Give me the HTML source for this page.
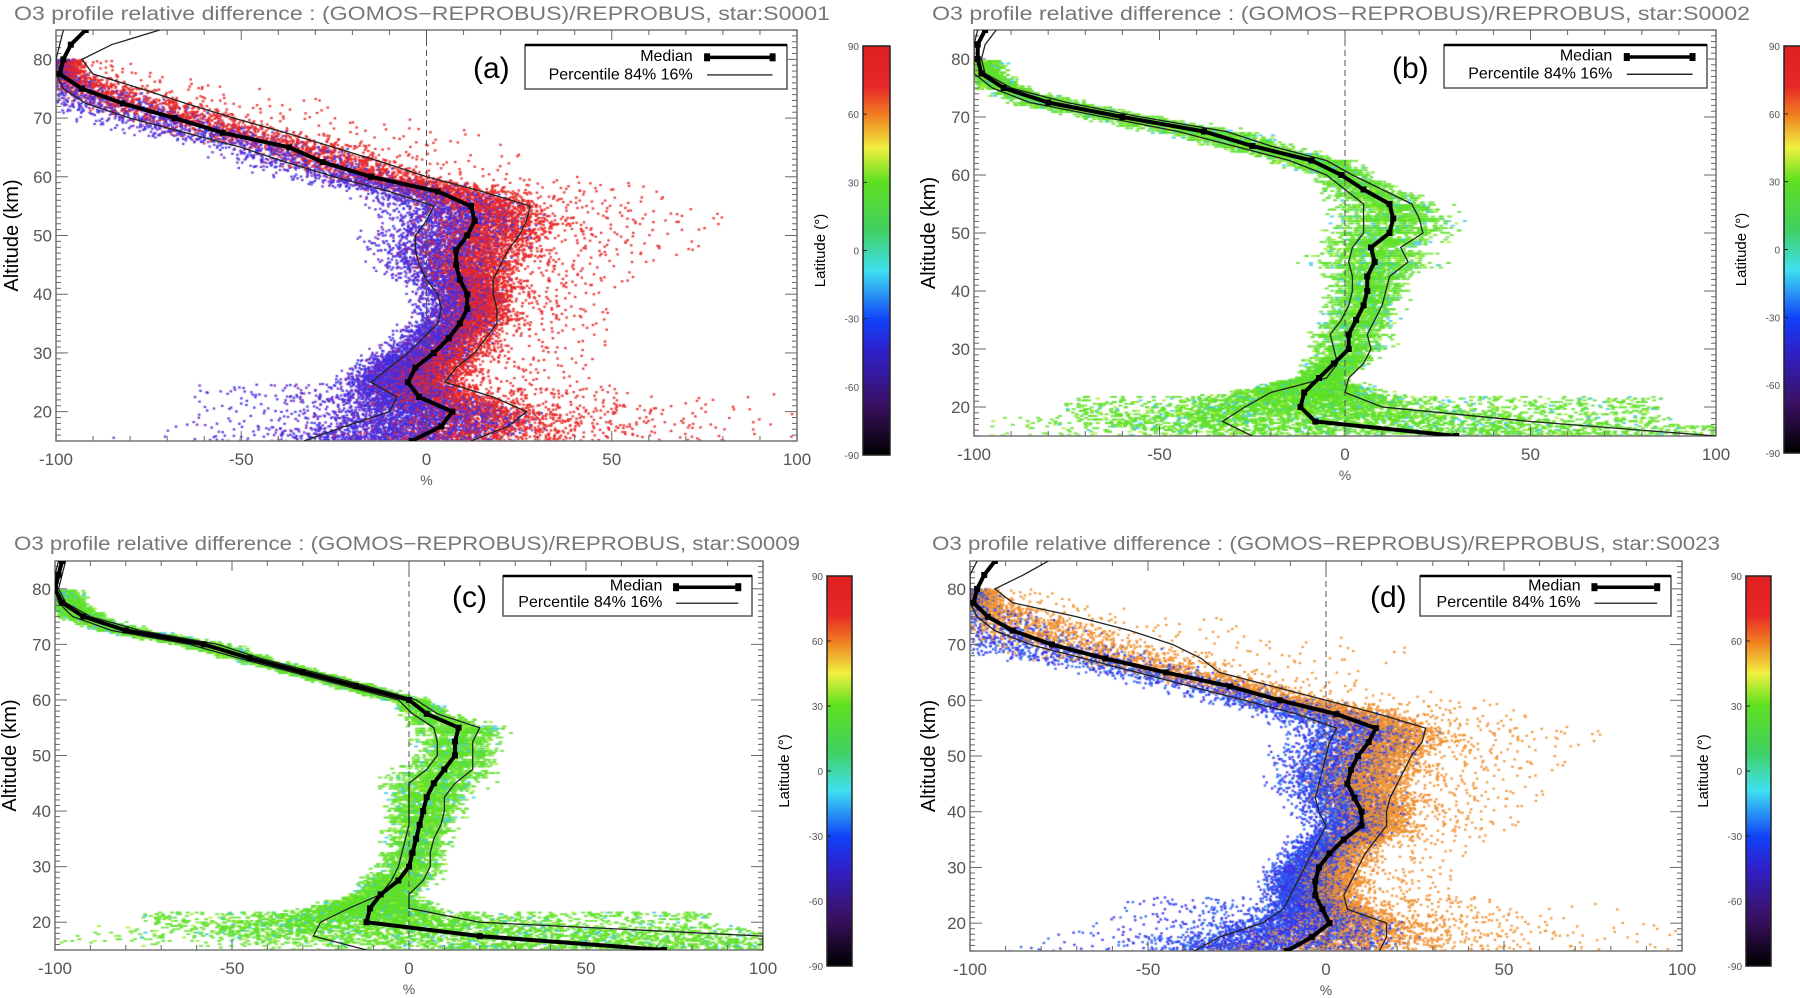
<!DOCTYPE html>
<html><head><meta charset="utf-8"><style>
html,body{margin:0;padding:0;background:#fff;}
#root{position:relative;width:1800px;height:998px;overflow:hidden;background:#fff;font-family:"Liberation Sans",sans-serif;}
canvas{position:absolute;left:0;top:0;}
svg{position:absolute;left:0;top:0;}
</style></head><body>
<div id="root">
<canvas id="cv" width="1800" height="998"></canvas>
<svg id="sv" width="1800" height="998"></svg>
</div>
<script>
// ---- data ----
const altitudes = [15,17.5,20,22.5,25,27.5,30,32.5,35,37.5,40,42.5,45,47.5,50,52.5,55,57.5,60,62.5,65,67.5,70,72.5,75,77.5,80,82.5,85];
const medianA = [-4,4,7,-2,-5,-3,2,6,9,11,11,9,8,8,11,13,12,3,-15,-28,-37,-55,-68,-82,-93,-99,-98,-96,-92];
const p16A = [-33,-22,-10,-8,-15,-10,-5,-1,3,4,3,0,-2,-3,-3,0,2,-10,-25,-38,-50,-65,-80,-92,-98,-100,-100,-99,-98];
const p84A = [12,22,27,18,5,8,13,16,19,19,18,18,20,22,25,27,28,15,0,-12,-25,-38,-52,-65,-77,-90,-93,-85,-72];
const medianB = [30,-8,-12,-11,-7,-3,1,1,3,5,6,6,8,7,12,13,12,5,-1,-9,-25,-38,-60,-80,-92,-98,-99,-99,-97];
const p16B = [-25,-33,-27,-20,-5,-2,-3,-4,-1,1,2,2,1,2,5,5,5,0,-5,-15,-30,-45,-65,-85,-95,-100,-100,-100,-99];
const p84B = [100,50,10,0,1,5,7,6,8,10,11,12,17,15,21,20,18,10,2,-5,-20,-32,-55,-75,-90,-97,-98,-97,-94];
const medianC = [72,20,-12,-11,-8,-3,0,1,2,3,4,5,7,10,13,13,14,5,0,-15,-30,-45,-58,-80,-92,-98,-100,-99,-98];
const p16C = [-12,-27,-25,-17,-8,-5,-3,-2,-1,0,0,0,0,5,8,8,7,1,-3,-18,-33,-48,-62,-84,-95,-99,-100,-100,-99];
const p84C = [100,100,20,0,0,4,6,6,7,9,10,10,13,18,18,18,20,8,2,-12,-27,-42,-54,-76,-90,-97,-99,-98,-97];
const medianD = [-11,-4,1,-1,-3,-3,-2,1,5,10,10,8,6,7,9,12,14,3,-13,-27,-45,-62,-77,-88,-95,-99,-98,-96,-93];
const p16D = [-37,-30,-18,-12,-10,-8,-6,-4,-2,0,-2,-3,-2,-1,0,1,3,-8,-23,-38,-53,-68,-83,-93,-98,-100,-100,-100,-98];
const p84D = [15,17,17,6,5,7,9,11,14,17,17,18,20,22,24,27,28,15,0,-15,-30,-35,-43,-55,-70,-88,-93,-85,-78];
const xTicks = [-100,-50,0,50,100];
const yTicks = [20,30,40,50,60,70,80];
const latTicks = [-90,-60,-30,0,30,60,90];
const titles = ["O3 profile relative difference : (GOMOS\u2212REPROBUS)/REPROBUS, star:S0001","O3 profile relative difference : (GOMOS\u2212REPROBUS)/REPROBUS, star:S0002","O3 profile relative difference : (GOMOS\u2212REPROBUS)/REPROBUS, star:S0009","O3 profile relative difference : (GOMOS\u2212REPROBUS)/REPROBUS, star:S0023"];
const panelLabels = ["(a)","(b)","(c)","(d)"];

// ---- layout ----
const panels = [
 {id:'a',med:medianA,lo:p16A,hi:p84A,x0:56,x1:797,y0:30,y1:441,tx:14,ty:20,tw:816,cb:[863,890,46,455],lg:[525,787,45,89],lab:[473,78],style:'mix',c1:'#e82828',c2:'#3a30e8',c3:'#6a2ac8',ax:18},
 {id:'b',med:medianB,lo:p16B,hi:p84B,x0:974,x1:1716,y0:30,y1:436,tx:932,ty:20,tw:818,cb:[1784,1806,46,453],lg:[1444,1707,45,88],lab:[1392,78],style:'band',ax:935},
 {id:'c',med:medianC,lo:p16C,hi:p84C,x0:55,x1:763,y0:561,y1:950,tx:14,ty:550,tw:786,cb:[827,852,576,966],lg:[503,752,576,616],lab:[452,607],style:'band',ax:16},
 {id:'d',med:medianD,lo:p16D,hi:p84D,x0:970,x1:1682,y0:561,y1:951,tx:932,ty:550,tw:788,cb:[1746,1771,576,966],lg:[1420,1671,576,616],lab:[1370,607],style:'mix',c1:'#f09030',c2:'#3a30e8',c3:'#2a60f0',ax:935}
];
const NS='http://www.w3.org/2000/svg';
const sv=document.getElementById('sv');
const ctx=document.getElementById('cv').getContext('2d');
function mk(tag,attrs,parent){const e=document.createElementNS(NS,tag);for(const k in attrs)e.setAttribute(k,attrs[k]);(parent||sv).appendChild(e);return e;}
let seed=12345;function rnd(){seed=(seed*1103515245+12345)&0x7fffffff;return seed/0x7fffffff;}
function gauss(){return (rnd()+rnd()+rnd()-1.5)*1.4;}
function interp(arr,alt){if(alt<=altitudes[0])return arr[0];for(let i=1;i<altitudes.length;i++){if(alt<=altitudes[i]){const t=(alt-altitudes[i-1])/(altitudes[i]-altitudes[i-1]);return arr[i-1]+t*(arr[i]-arr[i-1]);}}return arr[arr.length-1];}

panels.forEach(p=>{
 const sx=v=>p.x0+(v+100)/200*(p.x1-p.x0);
 const sy=a=>p.y1-(a-15)/70*(p.y1-p.y0);
 const g=mk('g',{});
 
 
 // scatter texture
 ctx.save();ctx.beginPath();ctx.rect(p.x0,p.y0,p.x1-p.x0,p.y1-p.y0);ctx.clip();
 if(p.style==='mix'){
  for(let alt=15;alt<=80;alt+=0.25){
   const m=interp(p.med,alt),lo=interp(p.lo,alt),hi=interp(p.hi,alt);
   const s=Math.max(4,(hi-lo)/2);
   const n=alt<30?130:(alt<60?80:45);
   for(let k=0;k<n;k++){
    const r=rnd();let x,col;
    const blueFrac=alt<35?0.6:0.45;
    if(r>blueFrac){x=m+s*(gauss()*0.9+0.5);col=p.c1;if(rnd()<0.1)x+=s*rnd()*4;}
    else{x=m+s*(gauss()*0.9-0.4);col=(rnd()<0.5)?p.c2:p.c3;}
    if(alt<25&&rnd()<0.1)x+= (r>blueFrac?1:-1)*rnd()*45;
    ctx.fillStyle=col;ctx.globalAlpha=0.9;
    ctx.fillRect(sx(x),sy(alt+(rnd()-0.5)*0.3),2.5,2.2);
   }
  }
 } else {
  for(let alt=15;alt<=80;alt+=(alt<28?0.3:0.4)){
   const m=interp(p.med,alt),lo=interp(p.lo,alt),hi=interp(p.hi,alt);
   const s=Math.max(3,(hi-lo)/2);
   const band=(alt>=28&&alt<60)?((alt%2)<1?1:0.4):1;
   const n=Math.round((alt<25?170:80)*band);
   for(let k=0;k<n;k++){
    let x=m+s*gauss()*1.4;
    if(alt<22&&rnd()<0.4)x=m+(rnd()-0.4)*160;
    ctx.fillStyle=rnd()<0.85?'#5ee02a':(rnd()<0.5?'#9ef02a':'#40c8e8');
    ctx.globalAlpha=0.9;
    ctx.fillRect(sx(x),sy(alt),4,1.8);
   }
  }
 }
 ctx.restore();
 // frame
 const fr=mk('rect',{x:p.x0,y:p.y0,width:p.x1-p.x0,height:p.y1-p.y0,fill:'none',stroke:'#777','stroke-width':1.5},g);
 
 // ticks
 for(let v=-100;v<=100;v+=10){const maj=v%50===0;const X=sx(v);
  mk('line',{x1:X,x2:X,y1:p.y1,y2:p.y1-(maj?10:5),stroke:'#666'},g);
  mk('line',{x1:X,x2:X,y1:p.y0,y2:p.y0+(maj?10:5),stroke:'#666'},g);}
 for(let a=15;a<=85;a+=1){const maj=a%10===0;const Y=sy(a);
  mk('line',{x1:p.x0,x2:p.x0+(maj?12:5),y1:Y,y2:Y,stroke:'#666'},g);
  mk('line',{x1:p.x1,x2:p.x1-(maj?12:5),y1:Y,y2:Y,stroke:'#666'},g);}
 xTicks.forEach(v=>{const t=mk('text',{x:sx(v),y:p.y1+24,'text-anchor':'middle','font-size':17,fill:'#555'},g);t.textContent=v;
  });
 yTicks.forEach(a=>{const t=mk('text',{x:p.x0-4,y:sy(a)+6,'text-anchor':'end','font-size':17,fill:'#555'},g);t.textContent=a;
  });
 const xt=mk('text',{x:sx(0),y:p.y1+44,'text-anchor':'middle','font-size':14,fill:'#555'},g);xt.textContent='%';
 
 const yt=mk('text',{x:0,y:0,transform:`translate(${p.ax},${(p.y0+p.y1)/2}) rotate(-90)`,'text-anchor':'middle','font-size':20,fill:'#000'},g);yt.textContent='Altitude (km)';
 
 const ti=mk('text',{x:p.tx,y:p.ty,'font-size':19,fill:'#777',textLength:p.tw,lengthAdjust:'spacingAndGlyphs'},g);ti.textContent=titles['abcd'.indexOf(p.id)];
 
 // zero line
 const zl=mk('line',{x1:sx(0),x2:sx(0),y1:p.y0,y2:p.y1,stroke:'#555','stroke-dasharray':'6,4'},g);
 
 // lines
 const path=arr=>altitudes.map((a,i)=>(i?'L':'M')+sx(Math.max(-100,Math.min(100,arr[i])))+','+sy(a)).join(' ');
 const clipId='clip'+p.id;const cp=mk('clipPath',{id:clipId},g);mk('rect',{x:p.x0,y:p.y0,width:p.x1-p.x0,height:p.y1-p.y0},cp);
 const lg=mk('g',{'clip-path':`url(#${clipId})`},g);
 const l1=mk('path',{d:path(p.lo),fill:'none',stroke:'#222','stroke-width':1.3},lg);
 const l2=mk('path',{d:path(p.hi),fill:'none',stroke:'#222','stroke-width':1.3},lg);
 const l3=mk('path',{d:path(p.med),fill:'none',stroke:'#000','stroke-width':4},lg);
 altitudes.forEach((a,i)=>{const r=mk('rect',{x:sx(p.med[i])-3,y:sy(a)-3,width:6,height:6,fill:'#000'},lg);
  });
 // legend
 const [lx0,lx1,ly0,ly1]=p.lg;
 const lb=mk('g',{},g);
 mk('rect',{x:lx0,y:ly0,width:lx1-lx0,height:ly1-ly0,fill:'#fff',stroke:'#555','stroke-width':1.5},lb);
 mk('line',{x1:lx0,x2:lx1,y1:ly0,y2:ly0,stroke:'#000','stroke-width':2.5},lb);
 const h=ly1-ly0,w=lx1-lx0;
 const t1=mk('text',{x:lx0+w*0.64,y:ly0+h*0.36,'text-anchor':'end','font-size':16,fill:'#000'},lb);t1.textContent='Median';
 
 const t2=mk('text',{x:lx0+w*0.64,y:ly0+h*0.78,'text-anchor':'end','font-size':16,fill:'#000'},lb);t2.textContent='Percentile 84%  16%';
 
 mk('line',{x1:lx0+w*0.695,x2:lx0+w*0.945,y1:ly0+h*0.28,y2:ly0+h*0.28,stroke:'#000','stroke-width':3.5},lb);
 mk('rect',{x:lx0+w*0.695-3,y:ly0+h*0.28-4,width:6,height:8,fill:'#000'},lb);
 mk('rect',{x:lx0+w*0.945-3,y:ly0+h*0.28-4,width:6,height:8,fill:'#000'},lb);
 mk('line',{x1:lx0+w*0.695,x2:lx0+w*0.945,y1:ly0+h*0.68,y2:ly0+h*0.68,stroke:'#000','stroke-width':1.2},lb);
 const pl=mk('text',{x:p.lab[0],y:p.lab[1],'font-size':30,fill:'#000'},g);pl.textContent=panelLabels['abcd'.indexOf(p.id)];
 
 // colorbar
 const [cx0,cx1,cy0,cy1]=p.cb;
 const gid='grad'+p.id;const gr=mk('linearGradient',{id:gid,x1:0,y1:1,x2:0,y2:0},g);
 [['0','#000'],['0.12','#3a1060'],['0.25','#3020c8'],['0.33','#1040f8'],['0.45','#40e0f0'],['0.55','#40d060'],['0.67','#60e020'],['0.75','#f0f040'],['0.83','#f08020'],['0.9','#e82828'],['1','#e02020']].forEach(s=>mk('stop',{offset:s[0],'stop-color':s[1]},gr));
 const cb=mk('rect',{x:cx0,y:cy0,width:cx1-cx0,height:cy1-cy0,fill:`url(#${gid})`,stroke:'#222','stroke-width':1.5},g);
 
 latTicks.forEach(v=>{const Y=cy1-(v+90)/180*(cy1-cy0);
  mk('line',{x1:cx0,x2:cx0+4,y1:Y,y2:Y,stroke:'#222'},g);
  const t=mk('text',{x:cx0-4,y:Y+4,'text-anchor':'end','font-size':10,fill:'#555'},g);t.textContent=v;
  });
 const ct=mk('text',{x:0,y:0,transform:`translate(${cx0-38},${(cy0+cy1)/2}) rotate(-90)`,'text-anchor':'middle','font-size':15,fill:'#000'},g);ct.textContent='Latitude (\u00b0)';
 
});
</script>
</body></html>
